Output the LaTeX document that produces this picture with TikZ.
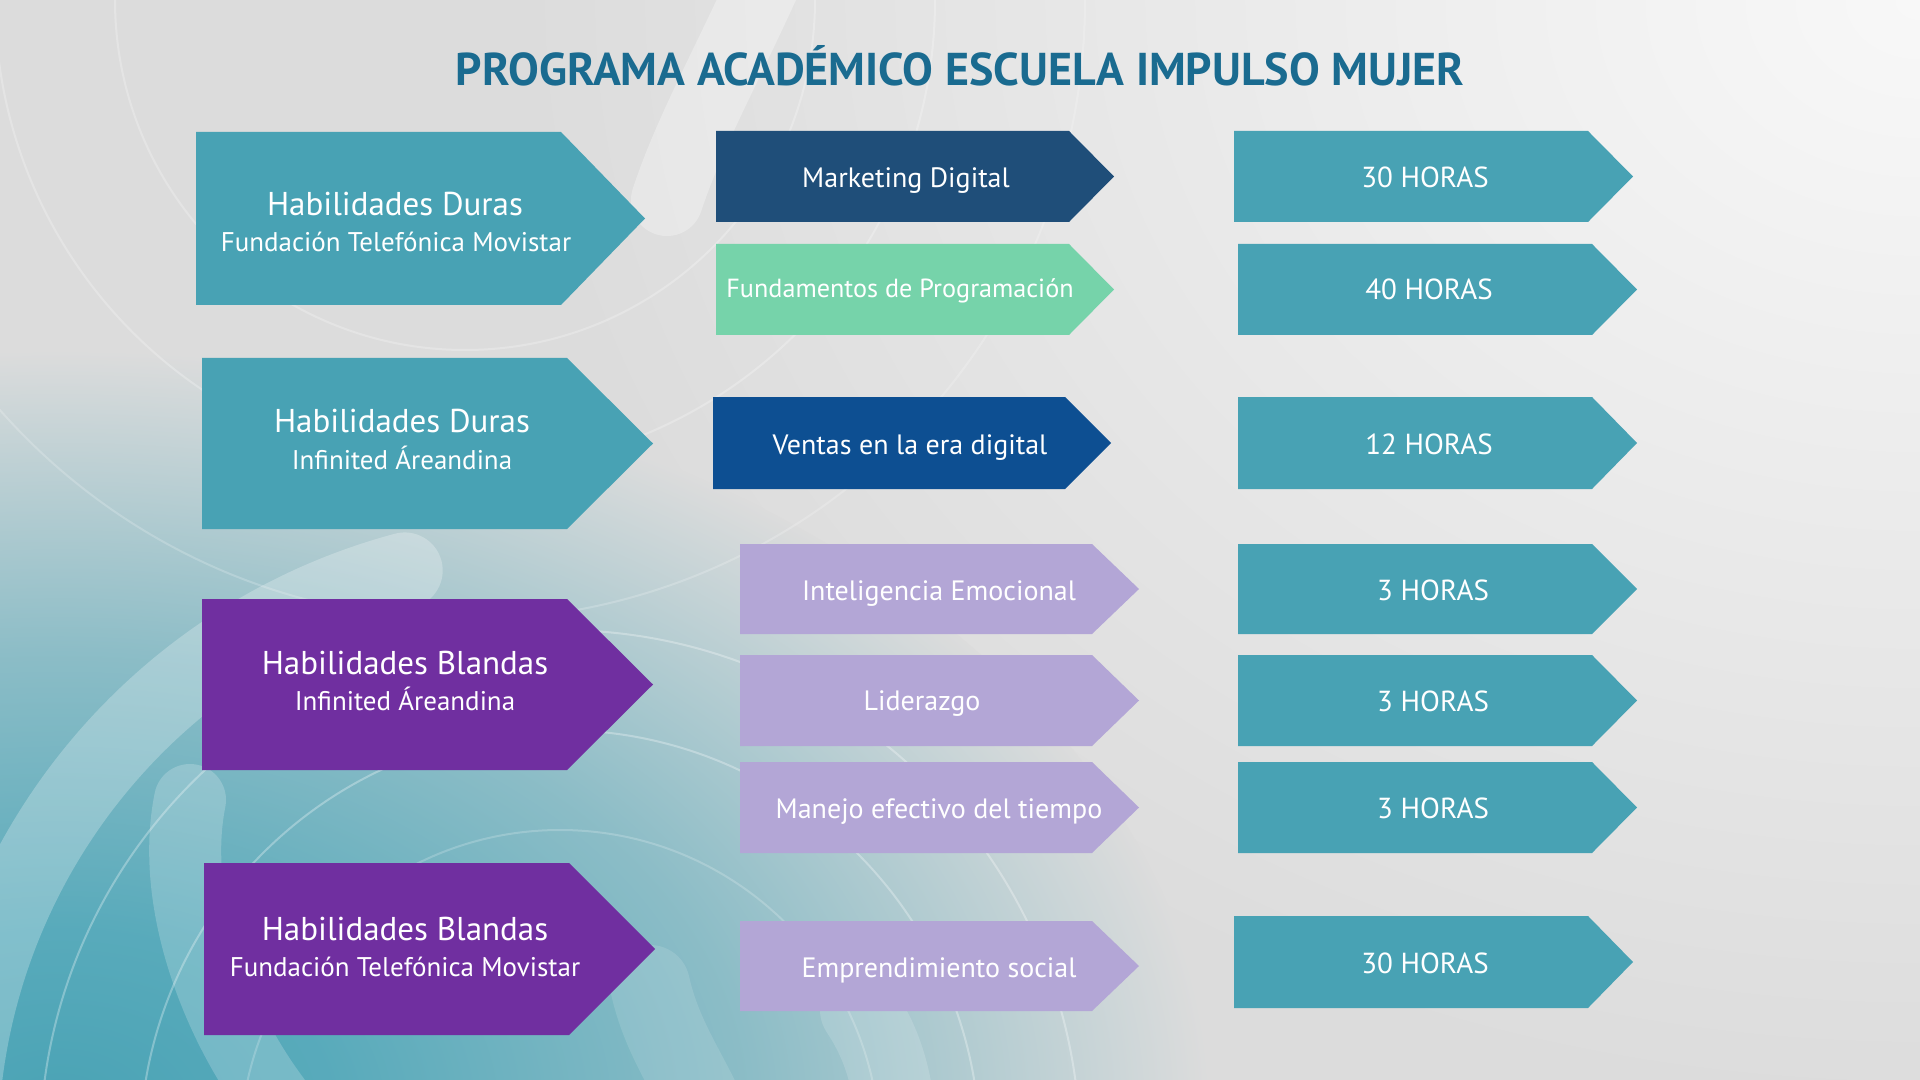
\documentclass[tikz,border=0pt]{standalone}
\usepackage{fontspec}
\setmainfont{PT Sans}
\definecolor{bg}{HTML}{DCDCDC}
\definecolor{bglight}{HTML}{F8F8F8}
\definecolor{tealbg}{HTML}{4AA3B5}
\definecolor{tealA}{HTML}{48A2B4}
\definecolor{purp}{HTML}{702FA0}
\definecolor{navy}{HTML}{1F4E79}
\definecolor{mint}{HTML}{76D3AA}
\definecolor{blueV}{HTML}{0D4F92}
\definecolor{lav}{HTML}{B3A6D6}
\definecolor{titleblue}{HTML}{1A6B90}
\pgfdeclareradialshading{lightglow}{\pgfpoint{0bp}{0bp}}{color(0bp)=(bglight); color(25bp)=(bg); color(50bp)=(bg)}
\pgfdeclareradialshading{tealglow}{\pgfpoint{0bp}{0bp}}{color(0bp)=(tealbg); color(6bp)=(tealbg!92!white); color(15bp)=(tealbg!55!bg); color(25bp)=(bg); color(50bp)=(bg)}
\newcommand\chevron[6]{\fill[#6] (#1,#2) -- (#3,#2) -- (#4,{(#2+#5)/2}) -- (#3,#5) -- (#1,#5) -- cycle;}
\tikzset{
  tx/.style={text=white, anchor=base, inner sep=0pt},
  bigline/.style={tx, font=\fontsize{16.5}{20}\selectfont},
  subline/.style={tx, font=\fontsize{13.5}{16}\selectfont},
  midline/.style={tx, font=\fontsize{14}{17}\selectfont},
  hourline/.style={tx, font=\fontsize{14.5}{17}\selectfont},
  band/.style={white, line cap=round},
  ring/.style={white, opacity=0.3, line width=1pt}
}
\begin{document}
\begin{tikzpicture}[x=0.5pt,y=-0.5pt]
\useasboundingbox (0,0) rectangle (1920,1080);
\clip (0,0) rectangle (1920,1080);
% background
\fill[bg] (0,0) rectangle (1920,1080);
\shade[shading=lightglow] (1920,0) ellipse[x radius=1400, y radius=1100];
\shade[shading=tealglow] (60,1110) ellipse[x radius=1150, y radius=760];
% decorative bands and rings
\draw[band, opacity=0.25, line width=38pt] (560,1150) ++(180:600) arc[start angle=180, end angle=255, radius=600];
\draw[band, opacity=0.2, line width=36pt] (190,800) .. controls (170,900) and (215,1020) .. (275,1100);
\draw[band, opacity=0.3, line width=36pt] (667,200) .. controls (690,130) and (730,60) .. (770,-30);
\draw[band, opacity=0.15, line width=40pt] (860,1010) .. controls (880,1040) and (890,1070) .. (895,1110);
\draw[band, opacity=0.12, line width=40pt] (650,985) .. controls (660,1030) and (680,1060) .. (700,1100);
\draw[ring] (560,1150) circle[radius=420];
\draw[ring] (560,1150) circle[radius=520];
\draw[ring, opacity=0.2] (560,1150) circle[radius=320];
\draw[ring, opacity=0.25] (465,0) circle[radius=350];
\draw[ring, opacity=0.25] (465,0) circle[radius=470];
\draw[ring, opacity=0.2] (465,0) circle[radius=620];
% title
\node[anchor=base, inner sep=0pt, text=titleblue, font=\bfseries\fontsize{23}{28}\selectfont] (title) at (960,86) {PROGRAMA ACADÉMICO ESCUELA IMPULSO MUJER};
% left column
\chevron{196}{132}{561}{645}{305}{tealA}
\chevron{202}{358}{567}{653}{529}{tealA}
\chevron{202}{599}{567}{653}{770}{purp}
\chevron{204}{863}{569}{655}{1035}{purp}
\node[bigline] (l1a) at (395,216) {Habilidades Duras};
\node[subline] (l1b) at (396,252) {Fundación Telefónica Movistar};
\node[bigline] (l2a) at (402,432) {Habilidades Duras};
\node[subline] (l2b) at (402,469) {Infinited Áreandina};
\node[bigline] (l3a) at (405,674) {Habilidades Blandas};
\node[subline] (l3b) at (405,710) {Infinited Áreandina};
\node[bigline] (l4a) at (405,940) {Habilidades Blandas};
\node[subline] (l4b) at (405,976) {Fundación Telefónica Movistar};
% middle column
\chevron{716}{131}{1069}{1114}{222}{navy}
\chevron{716}{244}{1069}{1114}{335}{mint}
\chevron{713}{397}{1065}{1111}{489}{blueV}
\chevron{740}{544}{1092}{1139}{634}{lav}
\chevron{740}{655}{1092}{1139}{746}{lav}
\chevron{740}{762}{1092}{1139}{853}{lav}
\chevron{740}{921}{1092}{1139}{1011}{lav}
\node[midline] (m1) at (906,188) {Marketing Digital};
\node[midline, font=\fontsize{13.1}{16}\selectfont] (m2) at (900,298) {Fundamentos de Programación};
\node[midline] (m3) at (910,454) {Ventas en la era digital};
\node[midline] (m4) at (939,600) {Inteligencia Emocional};
\node[midline] (m5) at (922,710) {Liderazgo};
\node[midline] (m6) at (939,818) {Manejo efectivo del tiempo};
\node[midline] (m7) at (939,977) {Emprendimiento social};
% right column
\chevron{1234}{131}{1588}{1633}{222}{tealA}
\chevron{1238}{244}{1592}{1637}{335}{tealA}
\chevron{1238}{397}{1592}{1637}{489}{tealA}
\chevron{1238}{544}{1592}{1637}{634}{tealA}
\chevron{1238}{655}{1592}{1637}{746}{tealA}
\chevron{1238}{762}{1592}{1637}{853}{tealA}
\chevron{1234}{916}{1588}{1633}{1008}{tealA}
\node[hourline] (r1) at (1425,188) {30 HORAS};
\node[hourline] (r2) at (1429,300) {40 HORAS};
\node[hourline] (r3) at (1429,454) {12 HORAS};
\node[hourline] (r4) at (1433,600) {3 HORAS};
\node[hourline] (r5) at (1433,711) {3 HORAS};
\node[hourline] (r6) at (1433,818) {3 HORAS};
\node[hourline] (r7) at (1425,973) {30 HORAS};
\end{tikzpicture}
\end{document}
